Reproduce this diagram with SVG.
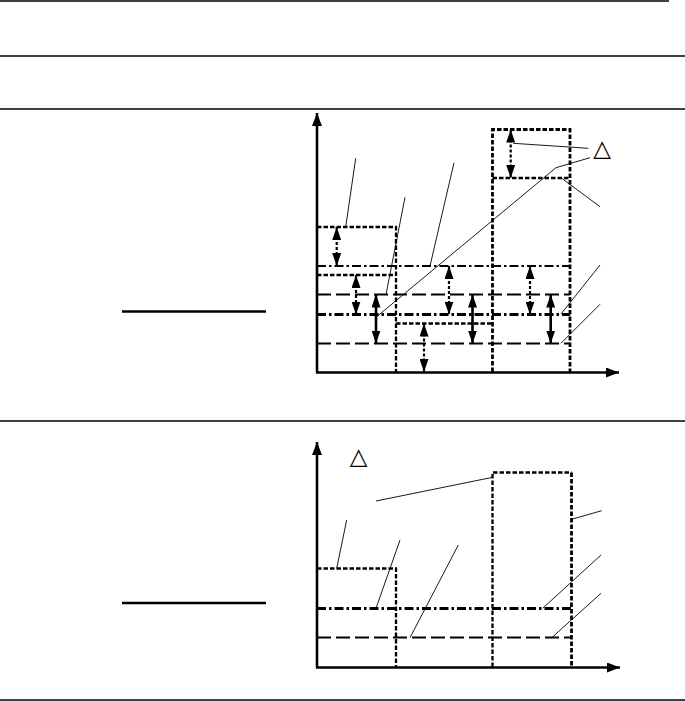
<svg xmlns="http://www.w3.org/2000/svg" width="685" height="701" viewBox="0 0 685 701">
<style>
.rule{stroke:#000;stroke-width:1.3;fill:none}
.bar{stroke:#000;stroke-width:2.4;fill:none}
.axis{stroke:#000;stroke-width:2.6;fill:none}
.sd{stroke:#000;stroke-width:2.3;fill:none;stroke-dasharray:4.5 2}
.sdh{stroke:#000;stroke-width:2.8;fill:none;stroke-dasharray:4.5 2}
.dd{stroke:#000;stroke-width:2.2;fill:none;stroke-dasharray:9 3 2.5 3}
.ddh{stroke:#000;stroke-width:2.8;fill:none;stroke-dasharray:9 3 2.5 3}
.ld{stroke:#000;stroke-width:2.2;fill:none;stroke-dasharray:14 5}
.lead{stroke:#000;stroke-width:0.9;fill:none}
.dim{stroke:#000;stroke-width:2.2;fill:none;stroke-dasharray:3 2;marker-start:url(#ah);marker-end:url(#ah)}
.dims{stroke:#000;stroke-width:2.6;fill:none;marker-start:url(#ah);marker-end:url(#ah)}
.sym{font-family:"DejaVu Sans",sans-serif;font-size:23px;fill:#000;text-anchor:middle}
</style>
<defs>
<marker id="ax" markerUnits="userSpaceOnUse" markerWidth="13" markerHeight="10" refX="13" refY="5" orient="auto">
<path d="M0,0 L13,5 L0,10 z" fill="#000"/>
</marker>
<marker id="ah" markerUnits="userSpaceOnUse" markerWidth="13" markerHeight="9" refX="13" refY="4.5" orient="auto-start-reverse">
<path d="M0,0 L13,4.5 L0,9 z" fill="#000"/>
</marker>
</defs>
<rect width="685" height="701" fill="#fff"/>
<g id="table-rules">
<line class="rule" x1="0" y1="1" x2="669" y2="1"/>
<line class="rule" x1="0" y1="56" x2="685" y2="56"/>
<line class="rule" x1="0" y1="109" x2="685" y2="109"/>
<line class="rule" x1="0" y1="421" x2="685" y2="421"/>
<line class="rule" x1="0" y1="700" x2="685" y2="700"/>
<line class="bar" x1="122" y1="311.5" x2="266" y2="311.5"/>
<line class="bar" x1="122" y1="603" x2="266" y2="603"/>
</g>
<g id="chart1">
<line class="axis" x1="317" y1="372.5" x2="317" y2="113" marker-end="url(#ax)"/>
<line class="axis" x1="316" y1="372.5" x2="619" y2="372.5" marker-end="url(#ax)"/>
<path class="sd" d="M317,227 H396 V372"/>
<line class="sd" x1="317" y1="275" x2="396" y2="275"/>
<line class="sd" x1="396" y1="323.5" x2="492.5" y2="323.5"/>
<path class="sdh" d="M492.5,372 V129.5 H570 V372"/>
<line class="sd" x1="492.5" y1="178" x2="570" y2="178"/>
<line class="dd" x1="317" y1="266" x2="570" y2="266"/>
<line class="ddh" x1="317" y1="314.5" x2="570" y2="314.5"/>
<line class="ld" x1="317" y1="294.5" x2="570" y2="294.5"/>
<line class="ld" x1="317" y1="343.5" x2="570" y2="343.5"/>
<text class="sym" x="602" y="156">△</text>
</g>
<g id="chart2">
<line class="axis" x1="317" y1="667.5" x2="317" y2="442" marker-end="url(#ax)"/>
<line class="axis" x1="316" y1="667.5" x2="620" y2="667.5" marker-end="url(#ax)"/>
<path class="sd" d="M317,568.5 H396 V667"/>
<path class="sd" d="M492.5,667 V472.5 H571.5"/>
<line class="sdh" x1="571.5" y1="472.5" x2="571.5" y2="667"/>
<line class="ddh" x1="317" y1="608.5" x2="571" y2="608.5"/>
<line class="ld" x1="317" y1="637.5" x2="571" y2="637.5"/>
<text class="sym" x="358.5" y="464">△</text>
</g>
<g id="connectors">
<line class="dim" x1="336.7" y1="227" x2="336.7" y2="266"/>
<line class="dim" x1="356" y1="275" x2="356" y2="314.5"/>
<line class="dims" x1="376" y1="294.5" x2="376" y2="343.5"/>
<line class="dim" x1="449" y1="266" x2="449" y2="314.5"/>
<line class="dims" x1="472.5" y1="294.5" x2="472.5" y2="343.5"/>
<line class="dim" x1="424" y1="323.5" x2="424" y2="372"/>
<line class="dim" x1="510.7" y1="129.5" x2="510.7" y2="178"/>
<line class="dim" x1="530" y1="266" x2="530" y2="314.5"/>
<line class="dims" x1="550.7" y1="294.5" x2="550.7" y2="343.5"/>
<line class="lead" x1="345.7" y1="227" x2="355.7" y2="158.3"/>
<line class="lead" x1="386" y1="294.5" x2="405" y2="197.3"/>
<line class="lead" x1="430" y1="266" x2="454" y2="162.7"/>
<polyline class="lead" points="376.7,316.7 556,167.7 590,157.7"/>
<line class="lead" x1="513.3" y1="143.3" x2="588.3" y2="148.3"/>
<line class="lead" x1="561.7" y1="178.3" x2="600" y2="206.7"/>
<line class="lead" x1="561" y1="314" x2="600" y2="265"/>
<line class="lead" x1="561" y1="343.3" x2="600" y2="304.3"/>
<line class="lead" x1="376" y1="501" x2="492.7" y2="477.3"/>
<line class="lead" x1="571.7" y1="519.3" x2="601.7" y2="510.7"/>
<line class="lead" x1="336.7" y1="568.3" x2="346.7" y2="520"/>
<line class="lead" x1="376" y1="608.3" x2="400" y2="540"/>
<line class="lead" x1="410" y1="637.7" x2="458.3" y2="545"/>
<line class="lead" x1="542.7" y1="608.3" x2="601" y2="555"/>
<line class="lead" x1="551.7" y1="637.7" x2="601" y2="593.3"/>
</g>
</svg>
